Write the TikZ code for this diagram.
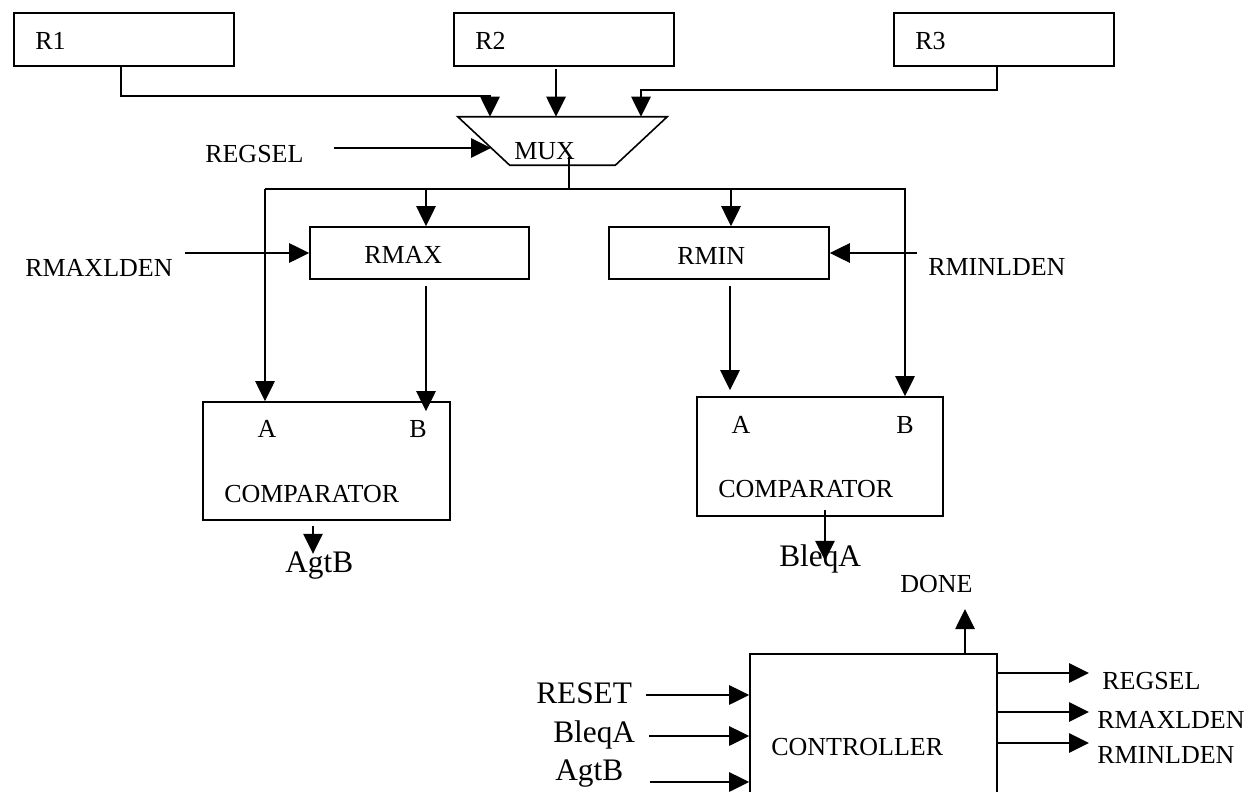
\documentclass[tikz,border=0pt]{standalone}
\usepackage{fontspec}
\setmainfont{Liberation Serif}
\usetikzlibrary{arrows.meta,calc}

\begin{document}
\begin{tikzpicture}[x=0.75pt,y=-0.75pt,
  wire/.style={line width=1.2pt},
  sig/.style={wire,-{Triangle[length=15pt,width=14.5pt]}},
  box/.style={draw,line width=1.2pt,inner sep=0pt},
  lbl/.style={inner sep=0pt,anchor=base west,font=\fontsize{19.5}{20}\selectfont},
  big/.style={inner sep=0pt,anchor=base west,font=\fontsize{23.5}{24}\selectfont}]
\useasboundingbox (0,0) rectangle (1249,792);
\clip (0,0) rectangle (1249,792);

% registers
\node[box,minimum width=165pt,minimum height=39.75pt] (r1) at (124,39.5) {};
\node[box,minimum width=165pt,minimum height=39.75pt] (r2) at (564,39.5) {};
\node[box,minimum width=165pt,minimum height=39.75pt] (r3) at (1004,39.5) {};
\node[lbl] (r1t) at (35,50) {R1};
\node[lbl] (r2t) at (475,50) {R2};
\node[lbl] (r3t) at (915,50) {R3};

% multiplexer: trapezoid drawn inside the frame of node mux
\node[inner sep=0pt,minimum width=156.75pt,minimum height=36pt] (mux) at (562.5,141) {};
\draw[wire,line join=miter] (mux.north west) -- (mux.north east)
  -- ($(mux.south east)+(-52,0)$) -- ($(mux.south west)+(52,0)$) -- cycle;
\node[lbl] (muxt) at (514,159) {MUX};
\node[lbl] (regsel) at (205,162) {REGSEL};

\draw[sig] (121,0 |- r1.south) |- (490,96) -- (490,0 |- mux.north);
\draw[sig] (556,0 |- r2.south) ++(0,2) -- (556,0 |- mux.north);
\draw[sig] (997,0 |- r3.south) |- (641,90) -- (641,0 |- mux.north);
\draw[sig] (regsel.east |- 0,148) ++(30,0) -- (491,148);

% output bus
\coordinate (muxout) at (569,157);
\coordinate (busL) at (265,189);
\coordinate (busR) at (906,189);
\draw[wire] (muxout) -- (muxout |- busL);
\draw[wire] (busL) -- (busR);

% RMAX / RMIN registers
\node[box,minimum width=164.25pt,minimum height=39pt] (rmax) at (419.5,253) {};
\node[box,minimum width=165pt,minimum height=39pt] (rmin) at (719,253) {};
\node[lbl] (rmaxt) at (364,263) {RMAX};
\node[lbl] (rmint) at (677,264) {RMIN};
\node[lbl] (rmaxld) at (25,276) {RMAXLDEN};
\node[lbl] (rminld) at (928,275) {RMINLDEN};

\draw[sig] (426,0 |- busL) -- (426,0 |- rmax.north);
\draw[sig] (731,0 |- busL) -- (731,0 |- rmin.north);
\draw[sig] (185,0 |- rmax.west) -- (rmax.west);
\draw[sig] (917,0 |- rmin.east) -- (rmin.east);

% comparators
\node[box,minimum width=185.25pt,minimum height=88.5pt] (cmp1) at (326.5,461) {};
\node[box,minimum width=184.5pt,minimum height=89.25pt] (cmp2) at (820,456.5) {};
\node[lbl,anchor=base] (a1) at (267,437) {A};
\node[lbl,anchor=base] (b1) at (418,437) {B};
\node[lbl] (c1t) at (224,502) {COMPARATOR};
\node[lbl,anchor=base] (a2) at (741,433) {A};
\node[lbl,anchor=base] (b2) at (905,433) {B};
\node[lbl] (c2t) at (718,497) {COMPARATOR};

\draw[sig] (busL) -- (busL |- cmp1.north);
\draw[sig] (426,0 |- rmax.south) ++(0,6) -- ($(426,0 |- cmp1.north)+(0,10)$);
\draw[sig] (730,0 |- rmin.south) ++(0,6) -- ($(730,0 |- cmp2.north)+(0,-6)$);
\draw[sig] (905,189) -- (905,0 |- cmp2.north);

\node[big] (agtb1) at (285,572) {AgtB};
\node[big] (bleqa1) at (779,566) {BleqA};
\draw[sig] ($(313,0 |- cmp1.south)+(0,5)$) -- ++(0,28);
\draw[sig] ($(825,0 |- cmp2.south)+(0,-7)$) -- ++(0,51);

% controller
\node[box,minimum width=185.25pt,minimum height=111pt] (ctrl) at (873.5,728) {};
\node[lbl] (ctrlt) at (771,755) {CONTROLLER};
\node[lbl] (done) at (900,592) {DONE};
\draw[sig] (965,0 |- ctrl.north) -- (965,609);

\node[big] (reset) at (536,703) {RESET};
\node[big] (bleqa2) at (553,742) {BleqA};
\node[big] (agtb2) at (555,780) {AgtB};
\draw[sig] (646,695) -- (ctrl.west |- 0,695);
\draw[sig] (649,736) -- (ctrl.west |- 0,736);
\draw[sig] (650,782) -- (ctrl.west |- 0,782);

\node[lbl] (regsel2) at (1102,689) {REGSEL};
\node[lbl] (rmaxld2) at (1097,728) {RMAXLDEN};
\node[lbl] (rminld2) at (1097,763) {RMINLDEN};
\draw[sig] (ctrl.east |- 0,673) -- (1089,673);
\draw[sig] (ctrl.east |- 0,712) -- (1089,712);
\draw[sig] (ctrl.east |- 0,743) -- (1089,743);
\end{tikzpicture}
\end{document}
